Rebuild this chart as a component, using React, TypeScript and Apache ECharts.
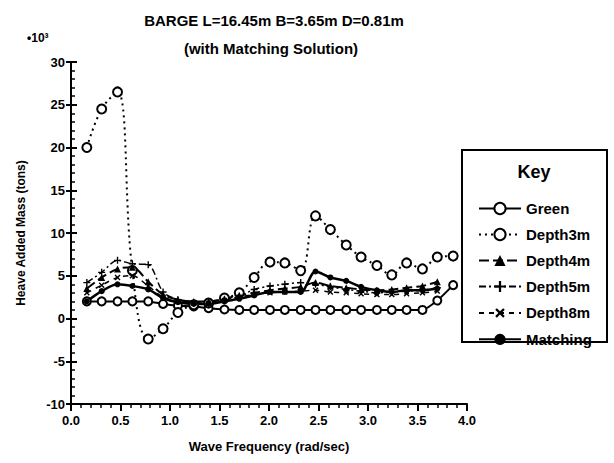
import React, { useEffect, useRef } from "react";
import * as echarts from "echarts";

const freq = [0.16, 0.31, 0.47, 0.62, 0.78, 0.93, 1.08, 1.24, 1.39, 1.55, 1.70, 1.85, 2.01, 2.16, 2.32, 2.47, 2.62, 2.78, 2.93, 3.09, 3.24, 3.39, 3.55, 3.70, 3.86];

const green = [2.0, 2.0, 2.0, 2.0, 2.0, 1.7, 1.5, 1.4, 1.2, 1.05, 1.0, 1.0, 1.0, 1.0, 1.0, 1.0, 1.0, 1.0, 1.0, 1.0, 1.0, 1.0, 1.0, 2.1, 3.9];
const depth3m = [20.0, 24.5, 26.5, 5.6, -2.4, -1.2, 0.7, 1.6, 1.8, 2.4, 3.0, 4.8, 6.6, 6.5, 5.6, 12.0, 10.4, 8.6, 7.2, 6.2, 5.1, 6.5, 5.8, 7.2, 7.3];
const depth4m = [3.5, 4.8, 5.8, 6.0, 4.3, 2.8, 2.2, 2.0, 2.0, 2.3, 2.7, 3.0, 3.3, 3.5, 3.7, 4.2, 3.8, 3.6, 3.4, 3.3, 3.4, 3.6, 3.8, 4.3];
const depth5m = [4.2, 5.4, 6.8, 6.4, 6.3, 3.1, 2.2, 1.8, 1.8, 2.2, 2.6, 3.4, 3.8, 4.0, 4.2, 4.0, 3.7, 3.4, 3.2, 3.0, 3.1, 3.2, 3.3, 3.6];
const depth8m = [3.0, 3.9, 4.8, 5.0, 3.8, 2.5, 2.0, 1.8, 1.8, 2.1, 2.5, 2.8, 3.0, 3.1, 3.2, 3.3, 3.1, 3.0, 2.9, 2.8, 2.8, 2.9, 3.0, 3.2];
const matching = [2.0, 3.2, 4.0, 3.8, 3.4, 2.4, 1.9, 1.7, 1.7, 2.0, 2.3, 2.7, 3.1, 3.1, 3.1, 5.5, 4.8, 4.4, 3.7, 3.3, 3.1, 3.3, 3.3, 3.5];

const seriesNames = ["Green", "Depth3m", "Depth4m", "Depth5m", "Depth8m", "Matching"];
const xTickFmt = (v: number) => v.toFixed(1);

const FONT = "Liberation Sans";
const plusPath = "path://M4,0H6V4H10V6H6V10H4V6H0V4H4Z";

function pts(arr: number[]) {
  return arr.map((v, i) => [freq[i], v]);
}

export default function App() {
  const ref = useRef<HTMLDivElement>(null);
  useEffect(() => {
    if (!ref.current) return;
    const chart = echarts.init(ref.current, null, { renderer: "svg" });
    const black = "#000";
    const option: any = {
      animation: false,
      backgroundColor: "#fff",
      textStyle: { fontFamily: FONT, color: black },
      title: [
        {
          text: "BARGE L=16.45m B=3.65m D=0.81m",
          left: 269,
          textAlign: "center",
          top: 8,
          textStyle: { fontFamily: FONT, fontSize: 15, fontWeight: "bold", color: black },
        },
        {
          text: "(with Matching Solution)",
          left: 266,
          textAlign: "center",
          top: 36,
          textStyle: { fontFamily: FONT, fontSize: 15, fontWeight: "bold", color: black },
        },
      ],
      grid: { left: 71, top: 62, width: 396, height: 342, containLabel: false },
      xAxis: {
        type: "value",
        min: 0,
        max: 4,
        interval: 0.5,
        axisLine: { show: true, onZero: false, lineStyle: { color: black, width: 2 } },
        axisTick: { show: true, inside: false, length: 7, lineStyle: { color: black, width: 2 } },
        minorTick: { show: true, splitNumber: 5, length: 4, lineStyle: { color: black, width: 1.5 } },
        splitLine: { show: false },
        axisLabel: { formatter: xTickFmt, fontFamily: FONT, fontSize: 13, fontWeight: "bold", color: black, margin: 10 },
        name: "Wave Frequency (rad/sec)",
        nameLocation: "middle",
        nameGap: 36,
        nameTextStyle: { fontFamily: FONT, fontSize: 13, fontWeight: "bold", color: black },
      },
      yAxis: [
        {
          type: "value",
          min: -10,
          max: 30,
          interval: 5,
          axisLine: { show: true, onZero: false, lineStyle: { color: black, width: 2 } },
          axisTick: { show: true, inside: false, length: 5, lineStyle: { color: black, width: 2 } },
          minorTick: { show: false },
          splitLine: { show: false },
          axisLabel: { fontFamily: FONT, fontSize: 13, fontWeight: "bold", color: black, margin: 6 },
          name: "Heave Added Mass (tons)",
          nameLocation: "middle",
          nameGap: 44,
          nameTextStyle: { fontFamily: FONT, fontSize: 12, fontWeight: "bold", color: black },
        },
        {
          type: "value",
          min: -10,
          max: 30,
          interval: 5,
          position: "left",
          axisLine: { show: false, onZero: false },
          axisTick: { show: true, inside: true, length: 6, lineStyle: { color: black, width: 2 } },
          minorTick: { show: true, splitNumber: 5, length: 4, lineStyle: { color: black, width: 1.5 } },
          splitLine: { show: false },
          axisLabel: { show: false },
        },
      ],
      legend: {
        left: 473,
        top: 196,
        orient: "vertical",
        itemWidth: 42,
        itemHeight: 14,
        itemGap: 11,
        data: seriesNames,
        textStyle: { fontFamily: FONT, fontSize: 15, fontWeight: "bold", color: black },
      },
      graphic: [
        {
          type: "rect",
          shape: { x: 462, y: 150, width: 145, height: 192 },
          style: { fill: "none", stroke: black, lineWidth: 2 },
        },
        {
          type: "text",
          x: 534,
          y: 172,
          style: { text: "Key", fontFamily: FONT, fontSize: 18, fontWeight: "bold", fill: black, align: "center", verticalAlign: "middle" },
        },
        {
          type: "text",
          x: 27,
          y: 38,
          style: { text: "•10³", fontFamily: FONT, fontSize: 12, fontWeight: "bold", fill: black, verticalAlign: "middle" },
        },
      ],
      series: [
        {
          name: "Green",
          type: "line",
          data: pts(green),
          smooth: 0.2,
          symbol: "emptyCircle",
          symbolSize: 8,
          lineStyle: { color: black, width: 2 },
          itemStyle: { color: black, borderWidth: 2 },
        },
        {
          name: "Depth3m",
          type: "line",
          data: pts(depth3m),
          smooth: 0.4,
          symbol: "emptyCircle",
          symbolSize: 9,
          lineStyle: { color: black, width: 2, type: [2, 4] },
          itemStyle: { color: black, borderWidth: 2 },
        },
        {
          name: "Depth4m",
          type: "line",
          data: pts(depth4m),
          smooth: 0.3,
          symbol: "triangle",
          symbolSize: 7,
          lineStyle: { color: black, width: 2, type: [10, 4] },
          itemStyle: { color: black },
        },
        {
          name: "Depth5m",
          type: "line",
          data: pts(depth5m),
          smooth: 0.3,
          symbol: plusPath,
          symbolSize: 7,
          lineStyle: { color: black, width: 1.5, type: [7, 3, 2, 3] },
          itemStyle: { color: black },
        },
        {
          name: "Depth8m",
          type: "line",
          data: pts(depth8m),
          smooth: 0.3,
          symbol: plusPath,
          symbolRotate: 45,
          symbolSize: 7,
          lineStyle: { color: black, width: 1.5, type: [5, 5] },
          itemStyle: { color: black },
        },
        {
          name: "Matching",
          type: "line",
          data: pts(matching),
          smooth: 0.3,
          symbol: "circle",
          symbolSize: 6,
          lineStyle: { color: black, width: 2.5 },
          itemStyle: { color: black },
        },
      ],
    };
    chart.setOption(option);
    return () => chart.dispose();
  }, []);
  return (
    <div
      ref={ref}
      style={{ position: "fixed", left: 0, top: 0, width: 614, height: 463, background: "#fff" }}
    />
  );
}
